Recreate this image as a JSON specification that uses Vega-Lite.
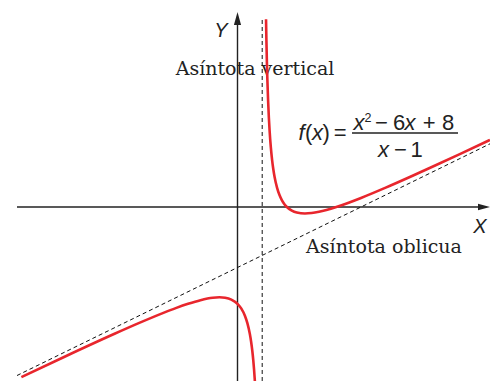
{
  "$schema": "https://vega.github.io/schema/vega-lite/v6.json",
  "width": 490,
  "height": 381,
  "padding": 0,
  "autosize": {"type": "none"},
  "background": "white",
  "config": {"view": {"stroke": null}},
  "datasets": {
    "curve": [
      {"branch": "L", "x": -8.75, "y": -14.058},
      {"branch": "L", "x": -7, "y": -12.375},
      {"branch": "L", "x": -5, "y": -10.5},
      {"branch": "L", "x": -4, "y": -9.6},
      {"branch": "L", "x": -3, "y": -8.75},
      {"branch": "L", "x": -2.5, "y": -8.357},
      {"branch": "L", "x": -2, "y": -8},
      {"branch": "L", "x": -1.5, "y": -7.7},
      {"branch": "L", "x": -1, "y": -7.5},
      {"branch": "L", "x": -0.73, "y": -7.464},
      {"branch": "L", "x": -0.5, "y": -7.5},
      {"branch": "L", "x": -0.25, "y": -7.65},
      {"branch": "L", "x": 0, "y": -8},
      {"branch": "L", "x": 0.15, "y": -8.379},
      {"branch": "L", "x": 0.3, "y": -8.986},
      {"branch": "L", "x": 0.4, "y": -9.6},
      {"branch": "L", "x": 0.5, "y": -10.5},
      {"branch": "L", "x": 0.55, "y": -11.117},
      {"branch": "L", "x": 0.6, "y": -11.9},
      {"branch": "L", "x": 0.64, "y": -12.693},
      {"branch": "L", "x": 0.67, "y": -13.421},
      {"branch": "L", "x": 0.7, "y": -14.3},
      {"branch": "L", "x": 0.71, "y": -14.635},
      {"branch": "R", "x": 1.155, "y": 15.51},
      {"branch": "R", "x": 1.17, "y": 13.817},
      {"branch": "R", "x": 1.19, "y": 11.979},
      {"branch": "R", "x": 1.21, "y": 10.496},
      {"branch": "R", "x": 1.24, "y": 8.74},
      {"branch": "R", "x": 1.27, "y": 7.381},
      {"branch": "R", "x": 1.3, "y": 6.3},
      {"branch": "R", "x": 1.35, "y": 4.921},
      {"branch": "R", "x": 1.4, "y": 3.9},
      {"branch": "R", "x": 1.45, "y": 3.117},
      {"branch": "R", "x": 1.5, "y": 2.5},
      {"branch": "R", "x": 1.6, "y": 1.6},
      {"branch": "R", "x": 1.7, "y": 0.986},
      {"branch": "R", "x": 1.8, "y": 0.55},
      {"branch": "R", "x": 1.9, "y": 0.233},
      {"branch": "R", "x": 2.0, "y": 0},
      {"branch": "R", "x": 2.2, "y": -0.3},
      {"branch": "R", "x": 2.4, "y": -0.457},
      {"branch": "R", "x": 2.73, "y": -0.536},
      {"branch": "R", "x": 3.0, "y": -0.5},
      {"branch": "R", "x": 3.3, "y": -0.396},
      {"branch": "R", "x": 3.6, "y": -0.246},
      {"branch": "R", "x": 4.0, "y": 0},
      {"branch": "R", "x": 4.5, "y": 0.357},
      {"branch": "R", "x": 5, "y": 0.75},
      {"branch": "R", "x": 5.5, "y": 1.167},
      {"branch": "R", "x": 6, "y": 1.6},
      {"branch": "R", "x": 7, "y": 2.5},
      {"branch": "R", "x": 8, "y": 3.429},
      {"branch": "R", "x": 9, "y": 4.375},
      {"branch": "R", "x": 10.22, "y": 5.545}
    ]
  },
  "encoding": {
    "x": {"type": "quantitative", "scale": {"domain": [-9.6154, 10.2227], "nice": false, "zero": false}, "axis": null},
    "y": {"type": "quantitative", "scale": {"domain": [-14.3802, 17.1074], "nice": false, "zero": false}, "axis": null}
  },
  "layer": [
    {
      "data": {"values": [
        {"x": 0.7085, "y": 10.909, "t": "Asíntota vertical"},
        {"x": 5.931, "y": -3.802, "t": "Asíntota oblicua"}
      ]},
      "mark": {"type": "text", "font": "DejaVu Serif", "fontSize": 19, "align": "center", "baseline": "alphabetic", "color": "#222"},
      "encoding": {"x": {"field": "x"}, "y": {"field": "y"}, "text": {"field": "t"}}
    },
    {
      "data": {"values": [
        {"x": -8.927, "y": 0, "x2": 9.98, "y2": 0},
        {"x": 0, "y": -14.38, "x2": 0, "y2": 15.4}
      ]},
      "mark": {"type": "rule", "color": "#222", "strokeWidth": 1.4},
      "encoding": {"x": {"field": "x"}, "y": {"field": "y"}, "x2": {"field": "x2"}, "y2": {"field": "y2"}}
    },
    {
      "data": {"values": [{"x": 9.98, "y": 0}]},
      "mark": {"type": "point", "shape": "M1,0L-1,-0.55L-1,0.55Z", "filled": true, "size": 144, "color": "#222", "opacity": 1, "strokeWidth": 0},
      "encoding": {"x": {"field": "x"}, "y": {"field": "y"}}
    },
    {
      "data": {"values": [{"x": 0, "y": 15.58}]},
      "mark": {"type": "point", "shape": "M0,-1L0.55,1L-0.55,1Z", "filled": true, "size": 169, "color": "#222", "opacity": 1, "strokeWidth": 0},
      "encoding": {"x": {"field": "x"}, "y": {"field": "y"}}
    },
    {
      "data": {"values": [
        {"x": 1, "y": -14.38, "x2": 1, "y2": 15.62},
        {"x": -8.927, "y": -13.927, "x2": 10.2227, "y2": 5.2227}
      ]},
      "mark": {"type": "rule", "color": "#111", "strokeWidth": 1, "strokeDash": [4, 3]},
      "encoding": {"x": {"field": "x"}, "y": {"field": "y"}, "x2": {"field": "x2"}, "y2": {"field": "y2"}}
    },
    {
      "data": {"name": "curve"},
      "mark": {"type": "line", "color": "#e8262d", "strokeWidth": 2.6, "clip": true, "interpolate": "monotone"},
      "encoding": {"x": {"field": "x"}, "y": {"field": "y"}, "detail": {"field": "branch"}}
    },
    {
      "data": {"values": [
        {"x": -0.668, "y": 14.05, "t": "Y"},
        {"x": 9.818, "y": -2.149, "t": "X"}
      ]},
      "mark": {"type": "text", "font": "Liberation Sans", "fontStyle": "italic", "fontSize": 20, "align": "center", "baseline": "alphabetic", "color": "#222"},
      "encoding": {"x": {"field": "x"}, "y": {"field": "y"}, "text": {"field": "t"}}
    },
    {
      "data": {"values": [
        {"x": 2.47, "y": 5.537, "t": "f"},
        {"x": 3.016, "y": 5.537, "t": "x"},
        {"x": 4.696, "y": 6.364, "t": "x"},
        {"x": 6.761, "y": 6.364, "t": "x"},
        {"x": 5.688, "y": 4.132, "t": "x"}
      ]},
      "mark": {"type": "text", "font": "Liberation Sans", "fontStyle": "italic", "fontSize": 22, "align": "left", "baseline": "alphabetic", "color": "#222"},
      "encoding": {"x": {"field": "x"}, "y": {"field": "y"}, "text": {"field": "t"}}
    },
    {
      "data": {"values": [
        {"x": 2.733, "y": 5.537, "t": "("},
        {"x": 3.442, "y": 5.537, "t": ")"},
        {"x": 3.9, "y": 5.537, "t": "="},
        {"x": 5.567, "y": 6.364, "t": "−"},
        {"x": 6.296, "y": 6.364, "t": "6"},
        {"x": 7.498, "y": 6.364, "t": "+"},
        {"x": 8.279, "y": 6.364, "t": "8"},
        {"x": 6.336, "y": 4.132, "t": "−"},
        {"x": 7.008, "y": 4.132, "t": "1"}
      ]},
      "mark": {"type": "text", "font": "Liberation Sans", "fontSize": 22, "align": "left", "baseline": "alphabetic", "color": "#222"},
      "encoding": {"x": {"field": "x"}, "y": {"field": "y"}, "text": {"field": "t"}}
    },
    {
      "data": {"values": [{"x": 5.142, "y": 7.066, "t": "2"}]},
      "mark": {"type": "text", "font": "Liberation Sans", "fontSize": 12.5, "align": "left", "baseline": "alphabetic", "color": "#222"},
      "encoding": {"x": {"field": "x"}, "y": {"field": "y"}, "text": {"field": "t"}}
    },
    {
      "data": {"values": [{"x": 4.636, "x2": 8.927, "y": 6.116}]},
      "mark": {"type": "rule", "color": "#222", "strokeWidth": 1.3},
      "encoding": {"x": {"field": "x"}, "x2": {"field": "x2"}, "y": {"field": "y"}}
    }
  ]
}
